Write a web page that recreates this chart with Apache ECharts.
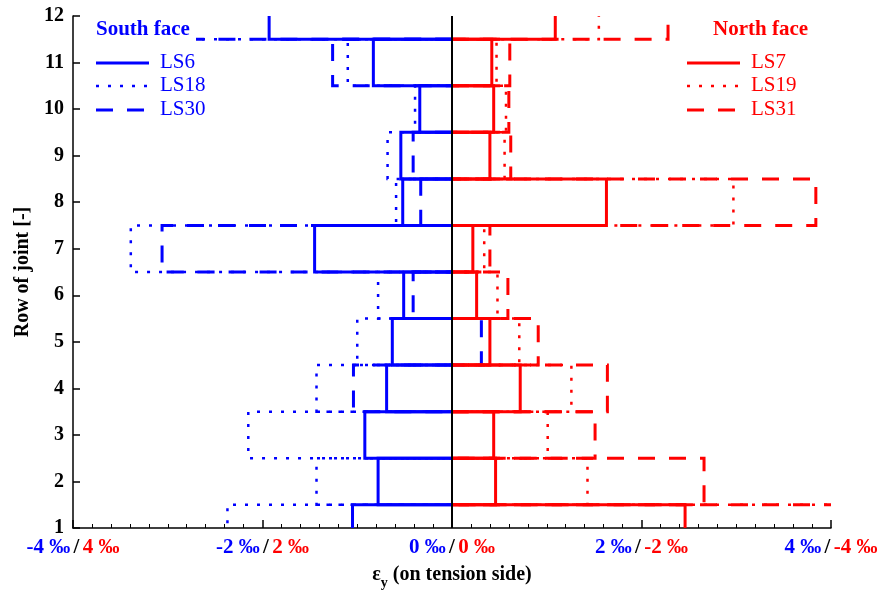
<!DOCTYPE html>
<html>
<head>
<meta charset="utf-8">
<title>Joint strain profiles</title>
<script src="https://cdn.jsdelivr.net/npm/echarts@6/dist/echarts.min.js"></script>
<style>
  html, body { margin: 0; padding: 0; background: #fff; }
  #chart { width: 882px; height: 595px; }
</style>
</head>
<body>
<div id="chart"></div>
<script>
// Row of joint (1 = bottom row)
const rows = [1, 2, 3, 4, 5, 6, 7, 8, 9, 10, 11, 12];

// South face strain εy [‰] per row (blue scale); null = no reading
const southLS6  = [-1.05, -0.78, -0.92, -0.69, -0.63, -0.51, -1.45, -0.52, -0.54, -0.34, -0.83, -1.93];
const southLS18 = [-2.37, -1.43, -2.15, -1.43, -1.00, -0.78, -3.39, -0.59, -0.68, -0.39, -1.10, -3.10];
const southLS30 = [null, null, null, -1.04, 0.31, -0.41, -3.06, -0.33, -0.41, null, -1.26, -2.95];

// North face strain εy [‰] per row (red scale, mirrored about 0)
const northLS7  = [-2.46, -0.46, -0.44, -0.72, -0.40, -0.26, -0.22, -1.63, -0.40, -0.44, -0.42, -1.09];
const northLS19 = [-4.40, -1.43, -1.01, -1.26, -0.71, -0.48, -0.34, -2.97, -0.555, -0.57, -0.47, -1.55];
const northLS31 = [-4.60, -2.66, -1.51, -1.64, -0.91, -0.59, -0.40, -3.84, -0.62, -0.60, -0.61, -2.28];

// Tick labels of the shared strain axis at -4, -2, 0, 2, 4
const southTickLabels = ['-4 ‰', '-2 ‰', '0 ‰', '2 ‰', '4 ‰'];
const northTickLabels = ['4 ‰', '2 ‰', '0 ‰', '-2 ‰', '-4 ‰'];

const BLUE = '#0000ff';
const RED = '#ff0000';
const FONT = '"Liberation Serif", "DejaVu Serif", serif';

const STYLES = {
  solid:  { lineWidth: 3,   lineDash: null },
  dotted: { lineWidth: 2.5, lineDash: [3, 9] },
  dashed: { lineWidth: 3,   lineDash: [17, 14] }
};

// x position on the shared axis: south plotted as is, north mirrored
function toPoints(values, mirror) {
  const out = [];
  values.forEach((v, i) => {
    if (v === null) return;
    out.push([rows[i], mirror ? -v : v]);
  });
  return out;
}

// Each row is an open box from the zero line out to the row's strain
function boxSeries(name, values, mirror, color, kind) {
  const st = STYLES[kind];
  return {
    name: name,
    type: 'custom',
    clip: true,
    encode: { x: 1, y: 0 },
    data: toPoints(values, mirror),
    renderItem: function (params, api) {
      const row = api.value(0);
      const v = api.value(1);
      const top = api.coord([0, row + 0.5]);
      const bot = api.coord([0, row - 0.5]);
      const xv = api.coord([v, row])[0];
      return {
        type: 'polyline',
        shape: { points: [[top[0], top[1]], [xv, top[1]], [xv, bot[1]], [bot[0], bot[1]]] },
        style: {
          fill: 'none',
          stroke: color,
          lineWidth: st.lineWidth,
          lineDash: st.lineDash,
          lineCap: 'butt',
          lineJoin: 'miter'
        }
      };
    }
  };
}

// Legend block: title plus three line samples
function legendBlock(x0, lineX0, lineX1, textX, title, names, color) {
  const els = [];
  els.push({
    type: 'text', left: x0, top: 19, z: 102,
    style: { text: title, fill: color, font: 'bold 21px ' + FONT }
  });
  const kinds = ['solid', 'dotted', 'dashed'];
  const ys = [63, 86, 110];
  kinds.forEach((k, i) => {
    const st = STYLES[k];
    els.push({
      type: 'line', z: 102,
      shape: { x1: lineX0, y1: ys[i], x2: lineX1, y2: ys[i] },
      style: { stroke: color, lineWidth: st.lineWidth, lineDash: st.lineDash, lineCap: 'butt' }
    });
    els.push({
      type: 'text', left: textX, top: ys[i] - 11, z: 102,
      style: { text: names[i], fill: color, font: '21px ' + FONT }
    });
  });
  return els;
}

const chart = echarts.init(document.getElementById('chart'), null, { renderer: 'canvas' });

const option = {
  animation: false,
  backgroundColor: '#ffffff',
  grid: { left: 73, right: 51, top: 16, bottom: 64, containLabel: false },
  xAxis: {
    type: 'value',
    min: -4,
    max: 4,
    interval: 2,
    axisLine: { show: true, onZero: false, lineStyle: { color: '#000', width: 1.5 } },
    axisTick: { show: true, inside: true, length: 8, lineStyle: { color: '#000', width: 1.5 } },
    minorTick: { show: true, splitNumber: 10, length: 4, lineStyle: { color: '#000', width: 1 } },
    splitLine: { show: false },
    minorSplitLine: { show: false },
    axisLabel: {
      margin: 9,
      formatter: function (v) {
        const i = Math.round((v + 4) / 2);
        return '{b|' + southTickLabels[i] + '} {k|/} {r|' + northTickLabels[i] + '}';
      },
      rich: {
        b: { color: BLUE, fontFamily: FONT, fontWeight: 'bold', fontSize: 21 },
        k: { color: '#000', fontFamily: FONT, fontWeight: 'bold', fontSize: 21 },
        r: { color: RED, fontFamily: FONT, fontWeight: 'bold', fontSize: 21 }
      }
    },
    name: '{e|ε}{s|y}{n| (on tension side)}',
    nameLocation: 'middle',
    nameGap: 32,
    nameTextStyle: {
      rich: {
        e: { color: '#000', fontFamily: FONT, fontWeight: 'bold', fontSize: 20 },
        s: { color: '#000', fontFamily: FONT, fontWeight: 'bold', fontSize: 14, padding: [16, 0, 0, 0] },
        n: { color: '#000', fontFamily: FONT, fontWeight: 'bold', fontSize: 20 }
      }
    }
  },
  yAxis: {
    type: 'value',
    min: 1,
    max: 12,
    interval: 1,
    axisLine: { show: true, onZero: false, lineStyle: { color: '#000', width: 1.5 } },
    axisTick: { show: true, inside: true, length: 7, lineStyle: { color: '#000', width: 1.5 } },
    splitLine: { show: false },
    axisLabel: { color: '#000', fontFamily: FONT, fontWeight: 'bold', fontSize: 20, margin: 9 },
    name: 'Row of joint [-]',
    nameLocation: 'middle',
    nameGap: 39,
    nameTextStyle: { color: '#000', fontFamily: FONT, fontWeight: 'bold', fontSize: 20 }
  },
  series: [
    boxSeries('LS30', southLS30, false, BLUE, 'dashed'),
    boxSeries('LS18', southLS18, false, BLUE, 'dotted'),
    boxSeries('LS6',  southLS6,  false, BLUE, 'solid'),
    boxSeries('LS31', northLS31, true,  RED,  'dashed'),
    boxSeries('LS19', northLS19, true,  RED,  'dotted'),
    boxSeries('LS7',  northLS7,  true,  RED,  'solid'),
    {
      // zero-strain reference line
      name: 'zero',
      type: 'line',
      data: [[0, 1], [0, 12]],
      symbol: 'none',
      z: 5,
      lineStyle: { color: '#000', width: 2 },
      silent: true
    }
  ],
  graphic: [
    // legend backgrounds
    { type: 'rect', z: 100, shape: { x: 82, y: 17, width: 114, height: 105 }, style: { fill: '#fff' } },
    { type: 'rect', z: 100, shape: { x: 683, y: 17, width: 145, height: 105 }, style: { fill: '#fff' } }
  ].concat(
    legendBlock(96, 96, 149, 160, 'South face', ['LS6', 'LS18', 'LS30'], BLUE),
    legendBlock(713, 687, 740, 751, 'North face', ['LS7', 'LS19', 'LS31'], RED)
  )
};

chart.setOption(option);
</script>
</body>
</html>
